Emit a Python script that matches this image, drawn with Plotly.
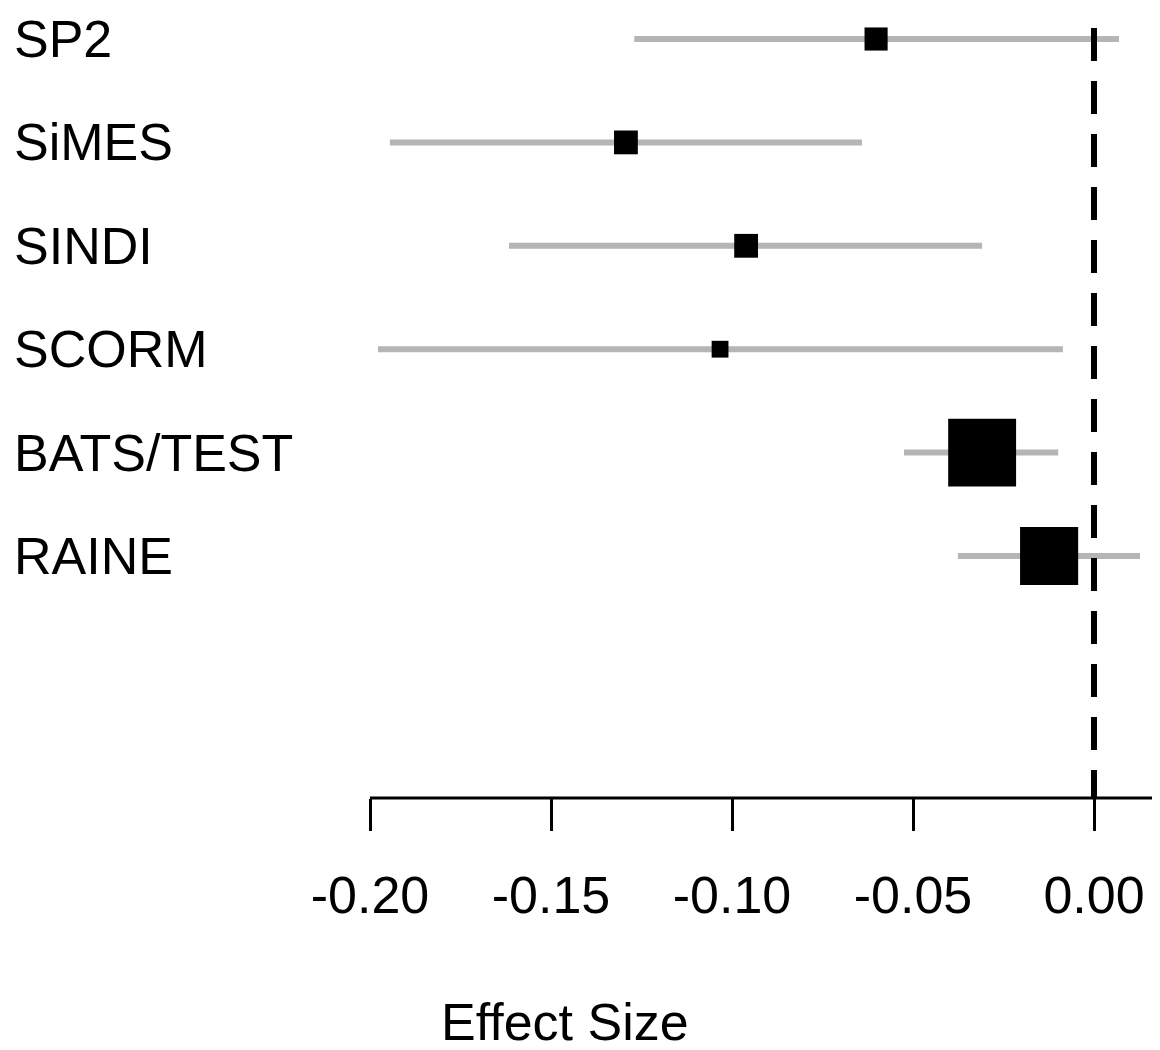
import plotly.graph_objects as go

# ---- data ----
studies = ["SP2", "SiMES", "SINDI", "SCORM", "BATS/TEST", "RAINE"]
effect = [-0.0602, -0.1293, -0.0961, -0.1033, -0.0309, -0.0124]
ci_low = [-0.1270, -0.1945, -0.1616, -0.1978, -0.0525, -0.0376]
ci_high = [0.0069, -0.0641, -0.0309, -0.0086, -0.0099, 0.0127]
weights = [0.33, 0.34, 0.34, 0.24, 0.97, 0.83]   # relative study weight (box size)
tick_vals = [-0.20, -0.15, -0.10, -0.05, 0.00]
tick_text = ["-0.20", "-0.15", "-0.10", "-0.05", "0.00"]

FONT = "Liberation Sans, Arial, Helvetica, sans-serif"
n = len(studies)
ypos = [n - i for i in range(n)]
err_plus = [h - e for h, e in zip(ci_high, effect)]
err_minus = [e - l for e, l in zip(effect, ci_low)]
box_size = [70 * w for w in weights]

OFF = 8  # page body margin
W, H = 1160 - OFF, 1050 - OFF
plot_h = 798 - OFF
px_per_unit = 3620.0
x0_px = 370.0 - OFF  # pixel of -0.20
x_left = -0.20 - x0_px / px_per_unit
x_right = -0.20 + (W - x0_px) / px_per_unit
row_px = 103.4
y_top = n + (39 - OFF) / row_px
y_bot = 1 - (798 - 556) / row_px

fig = go.Figure()
# confidence intervals
fig.add_trace(go.Scatter(
    x=effect, y=ypos, mode="markers",
    marker=dict(size=0.1, color="rgba(0,0,0,0)"),
    error_x=dict(type="data", symmetric=False, array=err_plus, arrayminus=err_minus,
                 color="#b5b5b5", thickness=6, width=0),
    hoverinfo="skip", showlegend=False,
))
# point estimates
fig.add_trace(go.Scatter(
    x=effect, y=ypos, mode="markers",
    marker=dict(symbol="square", size=box_size, color="black", opacity=1,
                line=dict(width=0)),
    showlegend=False,
))
# null line (drawn top -> bottom, above the CI lines)
fig.add_shape(type="line", xref="x", yref="paper", x0=0, x1=0, y0=1, y1=0,
              line=dict(color="black", width=6, dash="0px,20px,33px,0px"), layer="above")
# axis line from -0.20 to right edge
fig.add_shape(type="line", xref="x", yref="paper", x0=tick_vals[0], x1=x_right,
              y0=0, y1=0, line=dict(color="black", width=3))

for s, y in zip(studies, ypos):
    fig.add_annotation(text=s, x=(12 - OFF) / W, xref="paper", y=y, yref="y",
                       xanchor="left", yanchor="middle", showarrow=False,
                       font=dict(family=FONT, size=52, color="black"))

fig.add_annotation(text="Effect Size", x=(565 - OFF) / W, xref="paper",
                   y=(798 - 1022) / plot_h, yref="paper",
                   xanchor="center", yanchor="middle", showarrow=False,
                   font=dict(family=FONT, size=52, color="black"))

fig.update_layout(
    width=W, height=H,
    margin=dict(l=0, r=0, t=0, b=H - plot_h, pad=0),
    paper_bgcolor="white", plot_bgcolor="white",
    xaxis=dict(range=[x_left, x_right], showgrid=False, zeroline=False, showline=False,
               tickvals=tick_vals, ticktext=tick_text, ticks="outside", ticklen=32,
               tickwidth=3, tickcolor="black", ticklabelstandoff=20,
               tickfont=dict(family=FONT, size=52, color="black")),
    yaxis=dict(range=[y_bot, y_top], showgrid=False, zeroline=False, showline=False,
               showticklabels=False, ticks=""),
)

fig.write_html("out.html")
